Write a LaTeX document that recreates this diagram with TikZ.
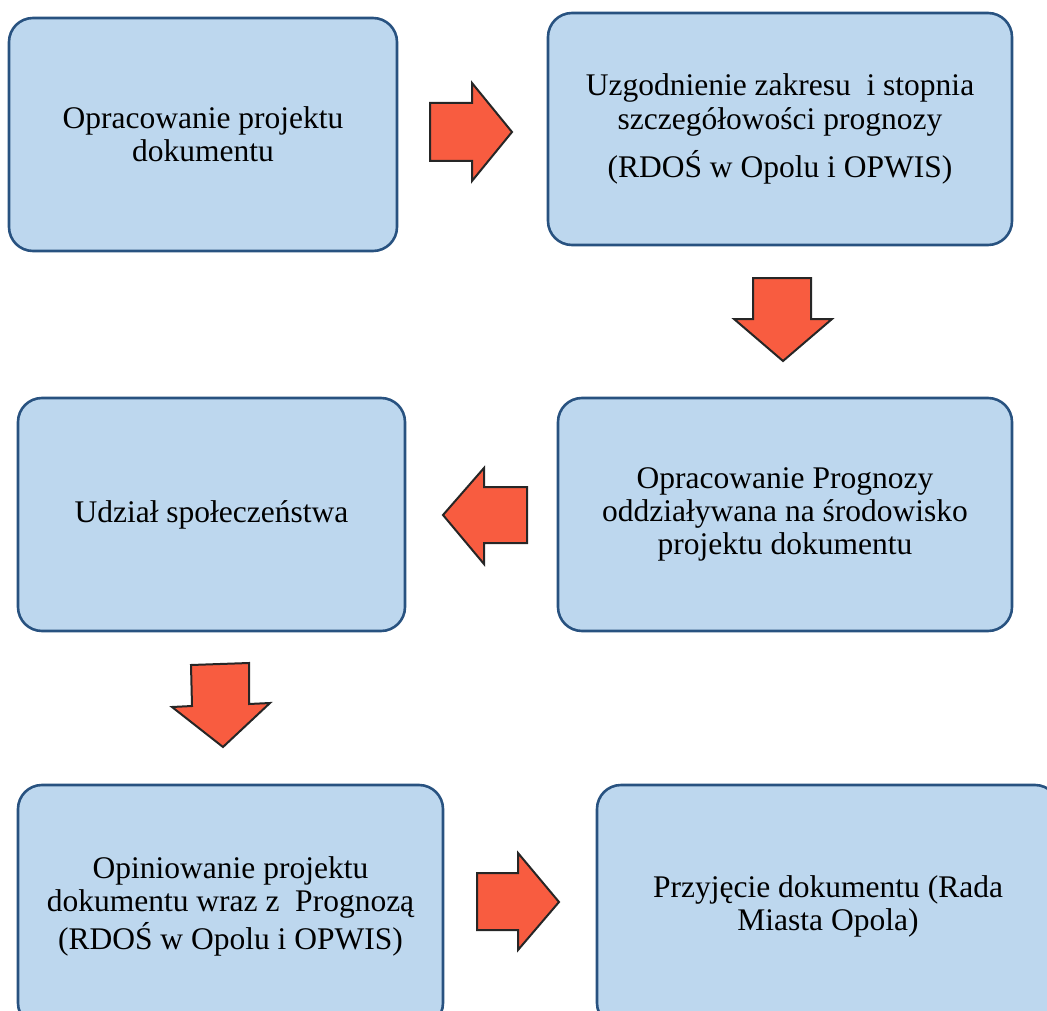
\documentclass[tikz,border=0pt]{standalone}
\usepackage{fontspec}
\setmainfont{Liberation Serif}
\definecolor{boxfill}{RGB}{189,215,238}
\definecolor{boxline}{RGB}{40,82,128}
\definecolor{arrowfill}{RGB}{248,92,64}
\definecolor{arrowline}{RGB}{38,38,38}
\begin{document}
\begin{tikzpicture}[x=1pt,y=-1pt,
  stagebox/.style={draw=boxline, fill=boxfill, line width=2.6pt,
    rounded corners=24pt, align=center, inner sep=0pt,
    font=\fontsize{31.5}{33}\selectfont},
  blockarrow/.style={draw=arrowline, fill=arrowfill, line width=2pt,
    line join=miter}]
\useasboundingbox (0,0) rectangle (1047,1011);
\clip (0,0) rectangle (1047,1011);

% process stages
\node[stagebox, minimum width=388pt, minimum height=233pt] (s1) at (203,134.5)
  {Opracowanie projektu\\dokumentu};
\node[stagebox, minimum width=464pt, minimum height=232pt] (s2) at (780,129)
  {Uzgodnienie zakresu\ \ i stopnia\\[1pt]szczegółowości prognozy\\[14pt](RDOŚ w Opolu i OPWIS)};
\node[stagebox, minimum width=454pt, minimum height=233pt] (s3) at (785,514.5)
  {Opracowanie Prognozy\\oddziaływana na środowisko\\projektu dokumentu};
\node[stagebox, minimum width=387pt, minimum height=233pt] (s4) at (211.5,514.5)
  {Udział społeczeństwa};
\node[stagebox, minimum width=425pt, minimum height=242pt] (s5) at (230.5,906)
  {Opiniowanie projektu\\dokumentu wraz z\ \ Prognozą\\[3pt](RDOŚ w Opolu i OPWIS)};
\node[stagebox, minimum width=462pt, minimum height=242pt] (s6) at (828,906)
  {Przyjęcie dokumentu (Rada\\Miasta Opola)};

% block arrows between the stages
\draw[blockarrow] (430,103) -- (472,103) -- (472,83) -- (512,132)
  -- (472,181) -- (472,161) -- (430,161) -- cycle;
\draw[blockarrow] (753,278) -- (811,278) -- (811,319) -- (832,319)
  -- (783,361) -- (734,319) -- (753,319) -- cycle;
\draw[blockarrow] (527,487) -- (484,487) -- (484,468) -- (443,515)
  -- (484,564) -- (484,543) -- (527,543) -- cycle;
\draw[blockarrow] (191,665) -- (249,663) -- (249,704) -- (270,703)
  -- (223,747) -- (172,707) -- (192,706) -- cycle;
\draw[blockarrow] (477,873) -- (518,873) -- (518,853) -- (559,902)
  -- (518,950) -- (518,930) -- (477,930) -- cycle;
\end{tikzpicture}
\end{document}
